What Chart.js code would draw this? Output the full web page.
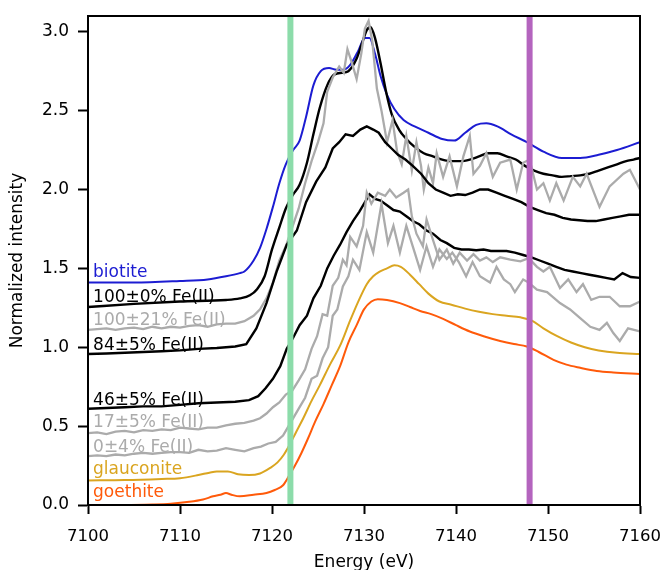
<!DOCTYPE html>
<html>
<head>
<meta charset="utf-8">
<script src="https://cdn.jsdelivr.net/npm/chart.js@4/dist/chart.umd.min.js"></script>
<style>
  body { margin: 0; background: #fff; }
  canvas { display: block; }
</style>
</head>
<body>
<canvas id="xanesChart" width="666" height="570"></canvas>
<script>
// axis ticks
const xTicks = [7100, 7110, 7120, 7130, 7140, 7150, 7160];
const yTicks = [0.0, 0.5, 1.0, 1.5, 2.0, 2.5, 3.0];

// vertical reference energies (eV)
const markerEnergies = [7122, 7148];

// biotite
const biotiteE = [7100, 7105, 7110, 7113, 7115, 7116.5, 7117, 7118, 7118.7, 7119.4, 7120.1, 7120.8, 7121.5, 7122.3, 7123, 7123.7, 7124.5, 7125.3, 7126.2, 7127, 7127.8, 7128.5, 7129.3, 7130.1, 7130.6, 7131.2, 7131.8, 7132.5, 7133.3, 7134.3, 7135.5, 7137, 7138.5, 7139.8, 7141, 7142.2, 7143.3, 7144.5, 7146, 7147.7, 7149.5, 7151.5, 7153.5, 7155.5, 7157.5, 7160];
const biotiteI = [1.41, 1.41, 1.42, 1.43, 1.45, 1.47, 1.48, 1.55, 1.63, 1.75, 1.89, 2.04, 2.16, 2.25, 2.31, 2.46, 2.66, 2.75, 2.77, 2.76, 2.76, 2.79, 2.87, 2.96, 2.96, 2.86, 2.72, 2.60, 2.51, 2.44, 2.40, 2.36, 2.32, 2.31, 2.36, 2.41, 2.42, 2.40, 2.35, 2.30, 2.24, 2.20, 2.20, 2.22, 2.25, 2.30];

// 100±0% Fe(II)
const fe100E = [7100, 7105, 7110, 7115, 7116.5, 7117.6, 7118.4, 7119.2, 7120, 7120.8, 7121.5, 7122.2, 7123, 7123.8, 7124.5, 7125.2, 7126, 7126.8, 7127.6, 7128.3, 7129.2, 7129.8, 7130.3, 7130.7, 7131.2, 7131.8, 7132.4, 7133, 7133.8, 7134.6, 7135.5, 7136.5, 7137.5, 7138.5, 7139.5, 7140.5, 7141.5, 7142.5, 7143.5, 7144.5, 7145.5, 7146.5, 7147.5, 7148.5, 7149.5, 7150.5, 7151.5, 7152.5, 7153.5, 7154.5, 7155.5, 7156.5, 7157.5, 7158.5, 7159.3, 7160];
const fe100I = [1.255, 1.275, 1.29, 1.30, 1.31, 1.33, 1.37, 1.45, 1.62, 1.76, 1.88, 1.96, 2.03, 2.17, 2.35, 2.52, 2.66, 2.73, 2.74, 2.75, 2.83, 2.93, 3.01, 3.03, 2.96, 2.80, 2.62, 2.48, 2.38, 2.32, 2.27, 2.23, 2.21, 2.19, 2.18, 2.18, 2.19, 2.21, 2.23, 2.23, 2.21, 2.19, 2.15, 2.12, 2.10, 2.09, 2.08, 2.085, 2.09, 2.10, 2.12, 2.14, 2.16, 2.18, 2.19, 2.20];

// 100±21% Fe(II)
const fe100bE = [7100, 7101, 7102, 7103, 7104, 7105, 7106, 7107, 7108, 7109, 7110, 7111, 7112, 7113, 7114, 7115, 7116, 7117, 7118, 7118.7, 7119.4, 7120.1, 7120.8, 7121.5, 7122.2, 7122.9, 7123.6, 7124.3, 7125, 7125.6, 7126, 7126.6, 7127.3, 7127.8, 7128.2, 7128.7, 7129.2, 7129.7, 7130.1, 7130.5, 7130.9, 7131.4, 7131.9, 7132.5, 7133.1, 7133.6, 7134.1, 7134.6, 7135.2, 7135.7, 7136.2, 7136.5, 7137, 7137.5, 7137.9, 7138.6, 7139.3, 7140.1, 7140.8, 7141.5, 7141.9, 7142.6, 7143.3, 7144, 7144.8, 7145.9, 7146.6, 7147.3, 7148, 7148.8, 7149.5, 7150.2, 7150.9, 7151.7, 7152.7, 7153.5, 7154.2, 7155.6, 7156.7, 7158.2, 7158.9, 7160];
const fe100bI = [1.11, 1.115, 1.12, 1.11, 1.12, 1.125, 1.115, 1.13, 1.12, 1.13, 1.125, 1.135, 1.14, 1.13, 1.145, 1.15, 1.15, 1.165, 1.20, 1.24, 1.31, 1.41, 1.55, 1.64, 1.76, 1.88, 2.04, 2.18, 2.30, 2.42, 2.62, 2.71, 2.78, 2.74, 2.89, 2.80, 2.70, 2.86, 3.02, 3.07, 2.94, 2.64, 2.50, 2.30, 2.44, 2.24, 2.16, 2.34, 2.12, 2.30, 2.15, 2.00, 2.14, 2.04, 2.23, 2.08, 2.21, 2.02, 2.21, 2.34, 2.10, 2.15, 2.23, 2.08, 2.17, 2.19, 2.00, 2.17, 2.19, 2.00, 2.04, 1.93, 2.04, 1.93, 2.08, 2.02, 2.10, 1.89, 2.02, 2.10, 2.125, 2.00];

// 84±5% Fe(II)
const fe84E = [7100, 7102, 7104, 7106, 7108, 7110, 7112, 7114, 7116, 7117.2, 7118.3, 7119.4, 7120.5, 7121.6, 7122.7, 7123.7, 7124.8, 7125.8, 7126.6, 7127.3, 7128, 7128.8, 7129.6, 7130.3, 7131, 7131.6, 7132.3, 7133, 7133.7, 7134.5, 7135.3, 7136.2, 7137, 7137.8, 7138.6, 7139.4, 7140.2, 7141, 7141.8, 7142.6, 7143.5, 7144.4, 7145.3, 7146.2, 7147.1, 7148, 7148.9, 7149.8, 7150.7, 7151.6, 7152.5, 7153.4, 7154.3, 7155.2, 7156.1, 7157, 7157.9, 7158.8, 7160];
const fe84I = [0.957, 0.96, 0.965, 0.97, 0.975, 0.98, 0.99, 0.995, 1.005, 1.02, 1.12, 1.28, 1.48, 1.65, 1.74, 1.92, 2.05, 2.14, 2.26, 2.30, 2.35, 2.34, 2.38, 2.40, 2.38, 2.36, 2.30, 2.26, 2.22, 2.19, 2.15, 2.10, 2.04, 2.00, 1.98, 1.96, 1.97, 1.965, 1.98, 2.00, 2.00, 1.98, 1.96, 1.94, 1.92, 1.89, 1.87, 1.85, 1.84, 1.82, 1.81, 1.805, 1.80, 1.80, 1.81, 1.82, 1.83, 1.84, 1.84];

// 46±5% Fe(II)
const fe46E = [7100, 7102, 7104, 7106, 7108, 7110, 7112, 7114, 7116, 7117.5, 7118.5, 7119.3, 7120.1, 7120.9, 7121.6, 7122.3, 7123, 7123.8, 7124.5, 7125.3, 7126, 7126.7, 7127.4, 7128.1, 7128.8, 7129.5, 7130.2, 7130.6, 7131.2, 7131.8, 7132.5, 7133.2, 7133.9, 7134.6, 7135.3, 7136, 7136.8, 7137.5, 7138.3, 7139, 7139.8, 7140.6, 7141.4, 7142.2, 7143, 7143.8, 7144.6, 7145.5, 7146.4, 7147.3, 7148.2, 7149.1, 7150, 7150.9, 7151.8, 7152.7, 7153.6, 7154.5, 7155.4, 7156.3, 7157.2, 7158.1, 7159, 7160];
const fe46I = [0.61, 0.615, 0.62, 0.625, 0.625, 0.635, 0.645, 0.65, 0.655, 0.665, 0.69, 0.74, 0.80, 0.88, 0.99, 1.06, 1.14, 1.20, 1.31, 1.39, 1.50, 1.58, 1.65, 1.73, 1.80, 1.86, 1.93, 1.97, 1.94, 1.93, 1.90, 1.87, 1.86, 1.83, 1.80, 1.78, 1.74, 1.72, 1.68, 1.66, 1.63, 1.62, 1.62, 1.615, 1.62, 1.61, 1.61, 1.61, 1.60, 1.585, 1.57, 1.55, 1.53, 1.51, 1.49, 1.48, 1.47, 1.46, 1.45, 1.44, 1.43, 1.47, 1.445, 1.44];

// 17±5% Fe(II)
const fe17E = [7100, 7101, 7102, 7103, 7104, 7105, 7106, 7107, 7108, 7109, 7110, 7111, 7112, 7113, 7114, 7115, 7116, 7117, 7118, 7118.7, 7119.4, 7120.1, 7120.8, 7121.5, 7122.2, 7122.9, 7123.6, 7124.3, 7124.9, 7125.5, 7126, 7126.6, 7127.2, 7127.7, 7128.1, 7128.5, 7129.2, 7129.9, 7130.3, 7130.8, 7131.5, 7132.3, 7132.8, 7133.5, 7134.3, 7134.8, 7135.2, 7135.7, 7136.4, 7136.8, 7137.5, 7138.2, 7139, 7139.7, 7140.4, 7141.2, 7141.9, 7142.6, 7143.3, 7144, 7144.8, 7145.9, 7147, 7147.9, 7148.8, 7149.5, 7150.2, 7151.3, 7152.2, 7153.1, 7153.8, 7154.7, 7155.6, 7156.7, 7157.8, 7158.9, 7160];
const fe17I = [0.455, 0.46, 0.45, 0.465, 0.47, 0.46, 0.475, 0.47, 0.48, 0.475, 0.49, 0.485, 0.48, 0.49, 0.49, 0.505, 0.515, 0.52, 0.535, 0.55, 0.58, 0.62, 0.65, 0.70, 0.725, 0.79, 0.86, 0.99, 1.07, 1.21, 1.20, 1.39, 1.44, 1.555, 1.52, 1.70, 1.64, 1.77, 1.98, 1.91, 1.98, 1.96, 2.00, 1.95, 1.98, 2.00, 1.83, 1.72, 1.64, 1.81, 1.68, 1.555, 1.62, 1.53, 1.60, 1.55, 1.59, 1.55, 1.57, 1.54, 1.57, 1.555, 1.545, 1.565, 1.51, 1.48, 1.51, 1.375, 1.43, 1.35, 1.40, 1.30, 1.32, 1.32, 1.26, 1.26, 1.29];

// 0±4% Fe(II)
const fe0E = [7100, 7101, 7102, 7103, 7104, 7105, 7106, 7107, 7108, 7109, 7110, 7111, 7112, 7113, 7114, 7115, 7116, 7117, 7118, 7118.8, 7119.6, 7120.4, 7121.2, 7121.8, 7122.4, 7123, 7123.6, 7124.3, 7124.9, 7125.5, 7126.1, 7126.6, 7127.1, 7127.7, 7128.3, 7128.8, 7129.5, 7130.3, 7131, 7131.9, 7132.6, 7133.2, 7133.9, 7134.6, 7135.3, 7136.1, 7136.8, 7137.5, 7138.2, 7139, 7139.6, 7140.3, 7141.1, 7141.8, 7142.6, 7143.7, 7144.4, 7145.2, 7145.9, 7146.4, 7147.3, 7147.9, 7148.8, 7149.9, 7151.3, 7152.4, 7153.5, 7154.6, 7155.6, 7156.4, 7157.1, 7157.8, 7158.7, 7160];
const fe0I = [0.31, 0.315, 0.31, 0.32, 0.315, 0.325, 0.33, 0.325, 0.33, 0.335, 0.335, 0.33, 0.35, 0.34, 0.345, 0.36, 0.35, 0.34, 0.36, 0.37, 0.39, 0.40, 0.44, 0.50, 0.56, 0.62, 0.68, 0.80, 0.82, 0.93, 1.00, 1.20, 1.24, 1.385, 1.45, 1.555, 1.49, 1.73, 1.60, 1.91, 1.66, 1.77, 1.60, 1.77, 1.64, 1.49, 1.64, 1.51, 1.62, 1.56, 1.60, 1.54, 1.45, 1.54, 1.45, 1.41, 1.51, 1.43, 1.40, 1.35, 1.43, 1.41, 1.365, 1.35, 1.28, 1.24, 1.185, 1.13, 1.11, 1.155, 1.09, 1.04, 1.12, 1.10];

// glauconite
const glauconiteE = [7100, 7104, 7108, 7110, 7112, 7113.2, 7114, 7115.2, 7116.3, 7117.5, 7118.7, 7119.8, 7120.6, 7121.3, 7121.9, 7122.6, 7123.4, 7124.3, 7125.2, 7126.3, 7127.4, 7128.5, 7129.3, 7130.3, 7131, 7131.7, 7132.5, 7133.3, 7134, 7135, 7136, 7137, 7138.2, 7139.5, 7141, 7142.5, 7144, 7145.5, 7147, 7148.2, 7149.5, 7151, 7152.5, 7154, 7155.5, 7157.5, 7160];
const glauconiteI = [0.156, 0.158, 0.165, 0.17, 0.19, 0.205, 0.213, 0.213, 0.195, 0.19, 0.20, 0.235, 0.27, 0.32, 0.38, 0.46, 0.55, 0.66, 0.76, 0.89, 1.01, 1.17, 1.28, 1.40, 1.45, 1.48, 1.50, 1.52, 1.51, 1.46, 1.40, 1.34, 1.29, 1.27, 1.245, 1.225, 1.21, 1.20, 1.19, 1.17, 1.12, 1.07, 1.03, 1.00, 0.98, 0.965, 0.957];

// goethite
const goethiteE = [7100, 7104, 7107, 7109, 7111, 7112.5, 7113.6, 7114.4, 7115, 7115.6, 7116.5, 7118, 7119.4, 7120.3, 7121.2, 7121.9, 7122.5, 7123.2, 7123.9, 7124.7, 7125.6, 7126.5, 7127.4, 7128.3, 7129.2, 7130, 7130.8, 7131.5, 7132.5, 7133.9, 7135, 7136.1, 7137.3, 7138.6, 7140, 7141.5, 7143, 7144.8, 7146.3, 7147.7, 7149, 7150.6, 7152, 7153.5, 7155.3, 7157.1, 7160];
const goethiteI = [0.0, 0.0, 0.003, 0.008, 0.02, 0.035, 0.055, 0.065, 0.076, 0.065, 0.055, 0.065, 0.076, 0.095, 0.125, 0.19, 0.25, 0.33, 0.42, 0.53, 0.64, 0.76, 0.88, 1.03, 1.14, 1.24, 1.29, 1.305, 1.30, 1.28, 1.255, 1.23, 1.21, 1.18, 1.14, 1.10, 1.07, 1.04, 1.02, 1.005, 0.97, 0.92, 0.89, 0.87, 0.85, 0.84, 0.83];

// in-plot labels: text, y position, colour
const seriesNames = ['biotite', '100±0% Fe(II)', '100±21% Fe(II)', '84±5% Fe(II)', '46±5% Fe(II)', '17±5% Fe(II)', '0±4% Fe(II)', 'glauconite', 'goethite'];
const labelY = [1.476, 1.316, 1.168, 1.011, 0.661, 0.52, 0.365, 0.224, 0.076];
const labelX = 7100.55;

const BLUE = '#1c1cd2', BLACK = '#000000', GRAY = '#ababab', GOLD = '#daa520', ORANGE = '#ff5a0a';
const labelColors = [BLUE, BLACK, GRAY, BLACK, BLACK, GRAY, GRAY, GOLD, ORANGE];

const FONT = "'DejaVu Sans', sans-serif";

function pts(xs, ys) {
    return xs.map(function (x, i) { return {x: x, y: ys[i]}; });
}

function curve(xs, ys, color, width, smooth) {
    return {
        data: pts(xs, ys),
        borderColor: color,
        borderWidth: width,
        pointRadius: 0,
        fill: false,
        cubicInterpolationMode: smooth ? 'monotone' : 'default',
        tension: 0
    };
}

const yRange = [0, 3.1];
const bandColors = ['#8cdcaa', '#b464be'];

// bands first so they sit on top of the curves
const datasets = markerEnergies.map(function (e, i) {
    return {
        data: [{x: e, y: yRange[0]}, {x: e, y: yRange[1]}],
        borderColor: bandColors[i],
        borderWidth: 6,
        pointRadius: 0,
        fill: false
    };
}).concat([
    curve(goethiteE, goethiteI, ORANGE, 2, true),
    curve(glauconiteE, glauconiteI, GOLD, 2, true),
    curve(fe0E, fe0I, GRAY, 2.3, false),
    curve(fe17E, fe17I, GRAY, 2.3, false),
    curve(fe46E, fe46I, BLACK, 2.4, false),
    curve(fe84E, fe84I, BLACK, 2.4, false),
    curve(fe100bE, fe100bI, GRAY, 2.3, false),
    curve(fe100E, fe100I, BLACK, 2.4, true),
    curve(biotiteE, biotiteI, BLUE, 2, true)
]);

// frame, axis titles and in-plot labels
const decorations = {
    id: 'decorations',
    afterDatasetsDraw: function (chart) {
        const ctx = chart.ctx;
        const a = chart.chartArea;
        const xs = chart.scales.x, ys = chart.scales.y;
        ctx.save();
        ctx.font = '17px ' + FONT;
        ctx.textBaseline = 'middle';
        ctx.textAlign = 'left';
        for (var i = 0; i < seriesNames.length; i++) {
            ctx.fillStyle = labelColors[i];
            ctx.fillText(seriesNames[i], xs.getPixelForValue(labelX), ys.getPixelForValue(labelY[i]));
        }
        ctx.strokeStyle = '#000';
        ctx.lineWidth = 2;
        ctx.strokeRect(a.left, a.top, a.right - a.left, a.bottom - a.top);

        ctx.fillStyle = '#000';
        ctx.textAlign = 'center';
        ctx.fillText('Energy (eV)', (a.left + a.right) / 2, 563);
        ctx.translate(18, (a.top + a.bottom) / 2);
        ctx.rotate(-Math.PI / 2);
        ctx.fillText('Normalized intensity', 0, 0);
        ctx.restore();
    }
};

new Chart(document.getElementById('xanesChart').getContext('2d'), {
    type: 'line',
    data: {datasets: datasets},
    options: {
        responsive: false,
        animation: false,
        layout: {padding: {left: 0, right: 26, top: 16, bottom: 0}},
        plugins: {legend: {display: false}, tooltip: {enabled: false}},
        scales: {
            x: {
                type: 'linear',
                min: 7100,
                max: 7160,
                afterBuildTicks: function (axis) { axis.ticks = xTicks.map(function (v) { return {value: v}; }); },
                afterFit: function (axis) {
                    axis.height = 65;
                    axis.paddingLeft = 0;
                    axis.paddingRight = 0;
                },
                ticks: {color: '#000', font: {size: 16.5, family: FONT}, padding: 13, maxRotation: 0,
                        callback: function (v) { return String(v); }},
                grid: {drawOnChartArea: false, tickLength: 9, tickWidth: 2, tickColor: '#000'},
                border: {color: '#000', width: 2}
            },
            y: {
                type: 'linear',
                min: yRange[0],
                max: yRange[1],
                afterBuildTicks: function (axis) { axis.ticks = yTicks.map(function (v) { return {value: v}; }); },
                afterFit: function (axis) {
                    axis.width = 88;
                    axis.paddingTop = 0;
                    axis.paddingBottom = 0;
                },
                ticks: {color: '#000', font: {size: 17, family: FONT}, padding: 9,
                        callback: function (v) { return v.toFixed(1); }},
                grid: {drawOnChartArea: false, tickLength: 10, tickWidth: 2, tickColor: '#000'},
                border: {color: '#000', width: 2}
            }
        }
    },
    plugins: [decorations]
});
</script>
</body>
</html>
